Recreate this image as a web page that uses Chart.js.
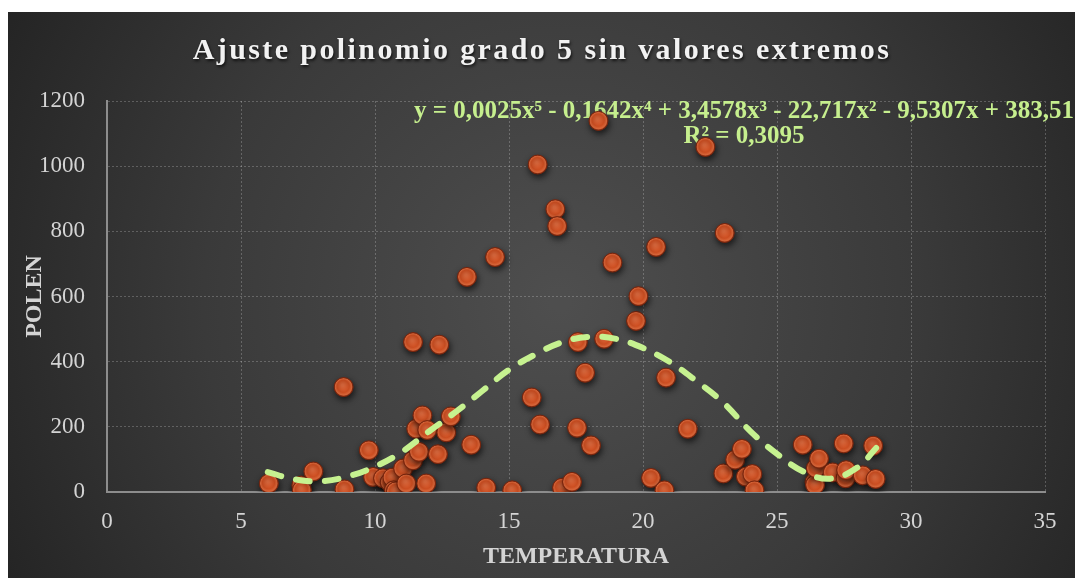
<!DOCTYPE html>
<html><head><meta charset="utf-8">
<script src="https://cdn.jsdelivr.net/npm/chart.js@4.4.1/dist/chart.umd.min.js"></script>
<style>
html,body{margin:0;padding:0;background:#fff;}
#wrap{position:absolute;left:0;top:0;width:1075px;height:583px;}
</style></head><body>
<div id="wrap"><canvas id="c" width="1075" height="583"></canvas></div>
<script>
// ---- data ----
const temperatura = [6.04, 7.25, 7.27, 7.7, 8.83, 8.86, 9.77, 9.93, 10.3, 10.55, 10.65, 10.7, 10.78, 11.05, 11.17, 11.42, 11.42, 11.54, 11.64, 11.77, 11.95, 11.91, 12.35, 12.4, 12.66, 12.83, 13.43, 13.59, 14.15, 14.48, 15.12, 15.85, 16.07, 16.16, 16.73, 16.8, 16.98, 17.35, 17.54, 17.57, 17.84, 18.06, 18.34, 18.55, 18.86, 19.74, 19.83, 20.3, 20.49, 20.8, 20.86, 21.67, 22.33, 23.0, 23.05, 23.44, 23.69, 23.84, 24.08, 24.16, 25.96, 26.4, 26.42, 26.45, 26.57, 27.08, 27.49, 27.56, 27.58, 28.2, 28.59, 28.68];
const polen = [26, 20, 6, 63, 322, 8, 128, 46, 42, 30, 44, 5, 2, 72, 26, 97, 460, 194, 123, 235, 190, 26, 116, 452, 183, 232, 660, 145, 13, 721, 5, 290, 1005, 207, 868, 816, 13, 31, 197, 460, 366, 143, 1139, 470, 704, 525, 601, 43, 752, 5, 351, 194, 1059, 57, 795, 99, 132, 47, 55, 5, 145, 31, 22, 73, 102, 60, 149, 42, 67, 51, 142, 40];
// trendline
const trendX = [6, 7, 8, 9, 10, 11, 12, 13, 14, 15, 16, 17, 18, 19, 20, 21, 22, 23, 24, 25, 26, 27, 28, 28.7];
const trendY = [61, 39, 33, 48, 78, 123, 185, 245, 310, 375, 423, 460, 476, 470, 442, 399, 340, 274, 187, 117, 62, 41, 75, 135];
const xTickValues = [0, 5, 10, 15, 20, 25, 30, 35];
const yTickValues = [0, 200, 400, 600, 800, 1000, 1200];
const chartTitle = 'Ajuste polinomio grado 5 sin valores extremos';
const xTitle = 'TEMPERATURA';
const yTitle = 'POLEN';
const equationText = 'y = 0,0025x\u2075 - 0,1642x\u2074 + 3,4578x\u00B3 - 22,717x\u00B2 - 9,5307x + 383,51';
const r2Text = 'R\u00B2 = 0,3095';

const scatterData = temperatura.map((t, i) => ({x: t, y: polen[i]}));
const trendData = trendX.map((t, i) => ({x: t, y: trendY[i]}));
const SERIF = '"Liberation Serif", "DejaVu Serif", serif';

const bgPlugin = {
  id: 'bg',
  beforeDraw(chart) {
    const ctx = chart.ctx;
    ctx.save();
    ctx.fillStyle = '#ffffff';
    ctx.fillRect(0, 0, chart.width, chart.height);
    const g = ctx.createRadialGradient(560, 300, 10, 560, 300, 640);
    g.addColorStop(0, '#4e4e4e');
    g.addColorStop(0.55, '#3a3a3a');
    g.addColorStop(1, '#232323');
    ctx.fillStyle = g;
    ctx.fillRect(8, 12, 1067, 566);
    ctx.restore();
  },
  beforeDatasetsDraw(chart) {
    const ctx = chart.ctx;
    ctx.save();
    ctx.fillStyle = '#c6ef8e';
    ctx.textAlign = 'center';
    ctx.textBaseline = 'alphabetic';
    ctx.font = 'bold 25px ' + SERIF;
    ctx.fillText(equationText, 744, 118);
    ctx.fillText(r2Text, 744, 143);
    ctx.restore();
  },
  beforeDatasetDraw(chart, args) {
    if (args.index === 0) {
      const ctx = chart.ctx;
      ctx.save();
      ctx.shadowColor = 'rgba(0,0,0,0.65)';
      ctx.shadowBlur = 6;
      ctx.shadowOffsetX = 1;
      ctx.shadowOffsetY = 3;
    }
  },
  afterDatasetDraw(chart, args) {
    if (args.index === 0) chart.ctx.restore();
  },
  afterDraw(chart) {
    const ctx = chart.ctx;
    ctx.save();
    ctx.font = 'bold 30px ' + SERIF;
    ctx.fillStyle = '#f2f2f2';
    ctx.textAlign = 'center';
    ctx.textBaseline = 'alphabetic';
    ctx.letterSpacing = '2.4px';
    ctx.shadowColor = 'rgba(0,0,0,0.7)';
    ctx.shadowBlur = 3;
    ctx.shadowOffsetX = 1;
    ctx.shadowOffsetY = 2;
    ctx.fillText(chartTitle, 542, 59);
    ctx.restore();
  }
};

function pointFill(c) {
  if (c.type !== 'data' || !c.raw) return '#cc4d22';
  const ch = c.chart;
  const sx = ch.scales && ch.scales.x, sy = ch.scales && ch.scales.y;
  if (!sx || !sy) return '#cc4d22';
  const px = sx.getPixelForValue(c.raw.x);
  const py = sy.getPixelForValue(c.raw.y);
  if (!isFinite(px) || !isFinite(py)) return '#cc4d22';
  const g = ch.ctx.createRadialGradient(px - 1, py - 2, 1, px, py, 9.5);
  g.addColorStop(0, '#d9673c');
  g.addColorStop(0.6, '#cf4f22');
  g.addColorStop(0.85, '#e06a3c');
  g.addColorStop(1, '#8c2c10');
  return g;
}

new Chart(document.getElementById('c'), {
  type: 'scatter',
  data: {
    datasets: [
      {
        label: 'POLEN',
        data: scatterData,
        pointRadius: 9.5,
        pointHoverRadius: 9.5,
        backgroundColor: pointFill,
        borderColor: '#7a250d',
        borderWidth: 1,
        order: 1
      },
      {
        type: 'line',
        label: 'Polinómica',
        data: trendData,
        showLine: true,
        pointRadius: 0,
        borderColor: '#c6f290',
        borderWidth: 6,
        borderDash: [14, 15],
        borderCapStyle: 'round',
        tension: 0.4,
        fill: false,
        order: 0
      }
    ]
  },
  options: {
    responsive: false,
    animation: false,
    devicePixelRatio: 1,
    layout: {padding: {left: 8, top: 101, right: 30, bottom: 0}},
    plugins: {
      legend: {display: false},
      tooltip: {enabled: false},
      title: {display: false}
    },
    scales: {
      x: {
        type: 'linear',
        min: 0, max: 35,
        afterFit(s) { s.height = 91; },
        afterBuildTicks(s) { s.ticks = xTickValues.map(v => ({value: v})); },
        ticks: {
          color: '#d4d4d4',
          font: {family: SERIF, size: 23},
          padding: 16,
          autoSkip: false,
          maxRotation: 0,
          callback: v => String(v)
        },
        grid: {color: 'rgba(255,255,255,0.22)', lineWidth: 1, drawTicks: false},
        border: {display: true, color: '#8d8d8d', width: 2, dash: [2, 2]},
        title: {
          display: true, text: xTitle, color: '#d4d4d4',
          font: {family: SERIF, size: 24, weight: 'bold'},
          padding: {top: 0, bottom: 12}
        }
      },
      y: {
        type: 'linear',
        min: 0, max: 1200,
        afterFit(s) { s.width = 99; },
        afterBuildTicks(s) { s.ticks = yTickValues.map(v => ({value: v})); },
        ticks: {
          color: '#d4d4d4',
          font: {family: SERIF, size: 23},
          padding: 22,
          callback: v => String(v)
        },
        grid: {color: 'rgba(255,255,255,0.22)', lineWidth: 1, drawTicks: false},
        border: {display: true, color: '#8d8d8d', width: 2, dash: [2, 2]},
        title: {
          display: true, text: yTitle, color: '#d4d4d4',
          font: {family: SERIF, size: 24, weight: 'bold'},
          padding: {top: 12, bottom: 0}
        }
      }
    }
  },
  plugins: [bgPlugin]
});
</script>
</body></html>
